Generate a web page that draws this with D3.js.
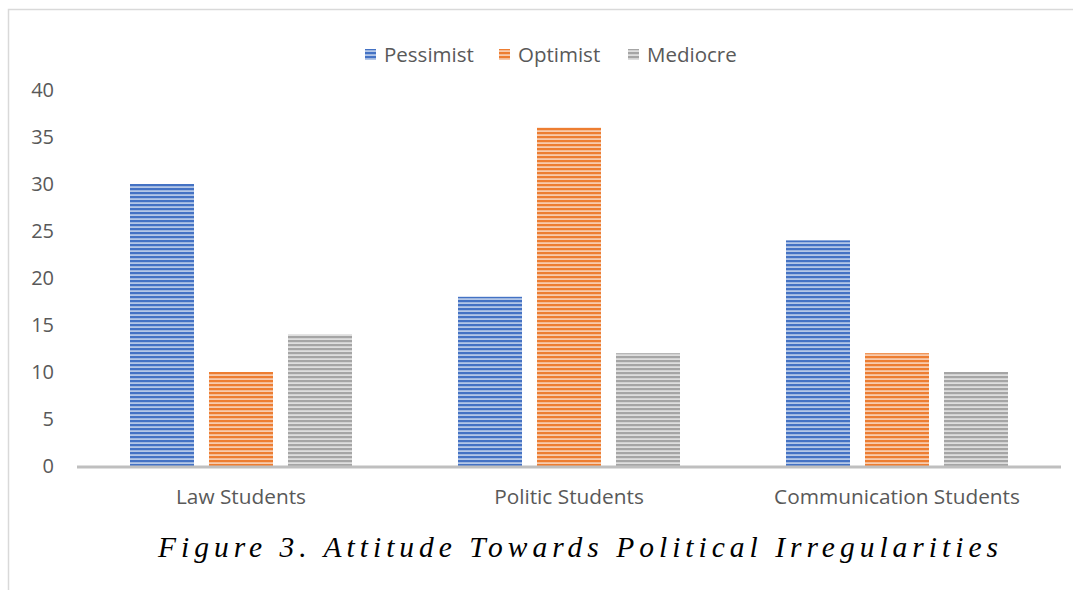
<!DOCTYPE html>
<html><head><meta charset="utf-8">
<script src="https://cdn.jsdelivr.net/npm/d3@7"></script>
<style>body{margin:0;background:#fff;} svg{display:block;}</style>
</head><body>
<script>
const categories = ["Law Students", "Politic Students", "Communication Students"];
const seriesNames = ["Pessimist", "Optimist", "Mediocre"];
const pessimist = [30, 18, 24];
const optimist = [10, 36, 12];
const mediocre = [14, 12, 10];
const yTicks = [0, 5, 10, 15, 20, 25, 30, 35, 40];
const title = "Figure 3. Attitude Towards Political Irregularities";

const W = 1073, H = 590;
const colors = {Pessimist:["#4472C4","#b4c7e7"], Optimist:["#ED7D31","#f8cbad"], Mediocre:["#A5A5A5","#dedede"]};
const values = {Pessimist: pessimist, Optimist: optimist, Mediocre: mediocre};

const svg = d3.select("body").append("svg").attr("width", W).attr("height", H);
const defs = svg.append("defs");
seriesNames.forEach(s => {
  const p = defs.append("pattern").attr("id", "pat-" + s).attr("patternUnits", "userSpaceOnUse")
    .attr("width", 8).attr("height", 4);
  p.append("rect").attr("width", 8).attr("height", 4).attr("fill", colors[s][1]);
  p.append("rect").attr("width", 8).attr("height", 2.2).attr("fill", colors[s][0]);
});

// chart border
svg.append("path").attr("d", `M8.5,${H} V9.5 H${W}`).attr("fill", "none").attr("stroke", "#d9d9d9").attr("stroke-width", 1.5);

const x0 = d3.scaleBand().domain(categories).range([77, 1061]);
const y = d3.scaleLinear().domain([0, 40]).range([466, 90]);
const barW = 64, gap = 15;
const x1 = d3.scaleOrdinal().domain(seriesNames).range([-barW*1.5 - gap, -barW/2, barW/2 + gap]);

const font = "Open Sans, sans-serif";

// y labels
svg.append("g").selectAll("text").data(yTicks).join("text")
  .attr("x", 54).attr("y", d => y(d)).attr("dy", "0.35em").attr("text-anchor", "end")
  .attr("font-family", font).attr("font-size", 20).attr("fill", "#595959")
  .text(d => d);

// bars
seriesNames.forEach(s => {
  svg.append("g").selectAll("rect").data(categories).join("rect")
    .attr("x", (c) => x0(c) + x0.bandwidth()/2 + x1(s))
    .attr("y", (c, i) => y(values[s][i]))
    .attr("width", barW)
    .attr("height", (c, i) => y(0) - y(values[s][i]))
    .attr("fill", `url(#pat-${s})`);
});

// baseline
svg.append("line").attr("x1", 77).attr("x2", 1061).attr("y1", y(0)+1).attr("y2", y(0)+1)
  .attr("stroke", "#bfbfbf").attr("stroke-width", 3);

// category labels
svg.append("g").selectAll("text").data(categories).join("text")
  .attr("x", c => x0(c) + x0.bandwidth()/2).attr("y", 504).attr("text-anchor", "middle")
  .attr("font-family", font).attr("font-size", 20.8).attr("fill", "#595959")
  .text(c => c);

// legend
const legX = [365, 499, 628];
const leg = svg.append("g");
seriesNames.forEach((s, i) => {
  leg.append("rect").attr("x", legX[i]).attr("y", 49).attr("width", 11).attr("height", 11).attr("fill", `url(#pat-${s})`);
  leg.append("text").attr("x", legX[i] + 19).attr("y", 55).attr("dy", "0.35em")
    .attr("font-family", font).attr("font-size", 20.5).attr("fill", "#595959").text(s);
});

// title
svg.append("text").attr("x", 158).attr("y", 557)
  .attr("font-family", "Liberation Serif, Times New Roman, serif").attr("font-style", "italic")
  .attr("font-size", 29.5).attr("letter-spacing", 5.0).attr("fill", "#000").text(title);
</script>
</body></html>
